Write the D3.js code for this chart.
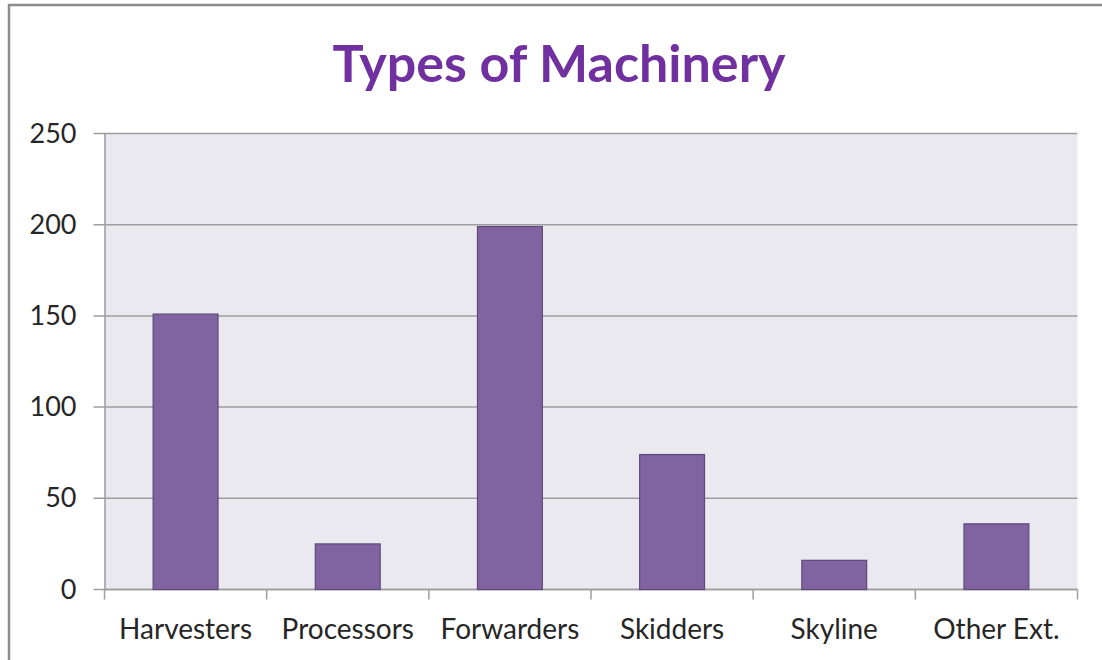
<!DOCTYPE html>
<html>
<head>
<meta charset="utf-8">
<script src="https://cdn.jsdelivr.net/npm/d3@7"></script>
<style>
  body { margin: 0; background: #fff; }
  text { font-family: Lato, "Open Sans", sans-serif; }
</style>
</head>
<body>
<script>
const categories = ['Harvesters', 'Processors', 'Forwarders', 'Skidders', 'Skyline', 'Other Ext.'];
const counts = [151, 25, 199, 74, 16, 36];
const yTicks = [0, 50, 100, 150, 200, 250];

const w = 1102;
const h = 660;

let margin = {
    top: 133.5, right: 24.5, bottom: 70.5, left: 104.5
};

const innerWidth = w - margin.left - margin.right;
const innerHeight = h - margin.top - margin.bottom;

let myDataSet = categories.map((c, i) => {
    return { name: c, value: counts[i] };
});

const svg = d3.select('body')
    .append('svg')
    .attr('width', w)
    .attr('height', h);

// outer frame: only top and left edges are inside the picture
svg.append('path')
    .attr('d', `M9,${h} V5 H${w}`)
    .attr('fill', 'none')
    .attr('stroke', '#8c8c8c')
    .attr('stroke-width', 2.5);

svg.append('text')
    .attr('id', 'title')
    .attr('x', 559)
    .attr('y', 82)
    .attr('text-anchor', 'middle')
    .attr('font-size', 52)
    .attr('font-weight', 'bold')
    .attr('fill', '#7030a0')
    .text('Types of Machinery');

const xScale = d3.scaleBand()
    .domain(categories)
    .range([0, innerWidth])
    .paddingInner(0.6)
    .paddingOuter(0.3);

const yScale = d3.scaleLinear()
    .domain([0, 250])
    .range([innerHeight, 0]);

const g = svg.append('g')
    .attr('transform', `translate(${margin.left},${margin.top})`);

g.append('rect')
    .attr('width', innerWidth)
    .attr('height', innerHeight)
    .attr('fill', '#ebe9f0');

// gridlines
g.selectAll('.grid')
    .data(yTicks)
    .enter()
    .append('line')
    .attr('class', 'grid')
    .attr('x1', -11)
    .attr('x2', innerWidth)
    .attr('y1', d => yScale(d))
    .attr('y2', d => yScale(d))
    .attr('stroke', '#9d9d9d')
    .attr('stroke-width', 1.5);

const yAxis = d3.axisLeft(yScale)
    .tickValues(yTicks)
    .tickSize(0)
    .tickPadding(28);

const yAxisG = g.append('g')
    .attr('id', 'y-axis')
    .call(yAxis);
yAxisG.select('.domain')
    .attr('stroke', '#9d9d9d')
    .attr('stroke-width', 1.5);
yAxisG.selectAll('text')
    .attr('font-size', 27)
    .attr('fill', '#262626');

// category boundaries for the bottom ticks
const step = innerWidth / categories.length;
const bounds = d3.range(categories.length + 1).map(i => i * step);

const xAxisG = g.append('g')
    .attr('id', 'x-axis')
    .attr('transform', `translate(0, ${innerHeight})`);

xAxisG.append('line')
    .attr('x1', 0)
    .attr('x2', innerWidth)
    .attr('stroke', '#9d9d9d')
    .attr('stroke-width', 1.5);

xAxisG.selectAll('.tick-mark')
    .data(bounds)
    .enter()
    .append('line')
    .attr('class', 'tick-mark')
    .attr('x1', d => d)
    .attr('x2', d => d)
    .attr('y1', 0)
    .attr('y2', 10)
    .attr('stroke', '#9d9d9d')
    .attr('stroke-width', 1.5);

xAxisG.selectAll('.cat')
    .data(categories)
    .enter()
    .append('text')
    .attr('class', 'cat')
    .attr('x', d => xScale(d) + xScale.bandwidth() / 2)
    .attr('y', 49)
    .attr('text-anchor', 'middle')
    .attr('font-size', 28)
    .attr('fill', '#262626')
    .text(d => d);

g.selectAll('.bar')
    .data(myDataSet)
    .enter()
    .append('rect')
    .attr('class', 'bar')
    .attr('x', d => xScale(d.name))
    .attr('y', d => yScale(d.value))
    .attr('width', xScale.bandwidth())
    .attr('height', d => innerHeight - yScale(d.value))
    .attr('fill', '#8064a2')
    .attr('stroke', '#5e4a7a')
    .attr('stroke-width', 1.2)
    .append('title')
    .text(d => d.name + ': ' + d.value);
</script>
</body>
</html>
